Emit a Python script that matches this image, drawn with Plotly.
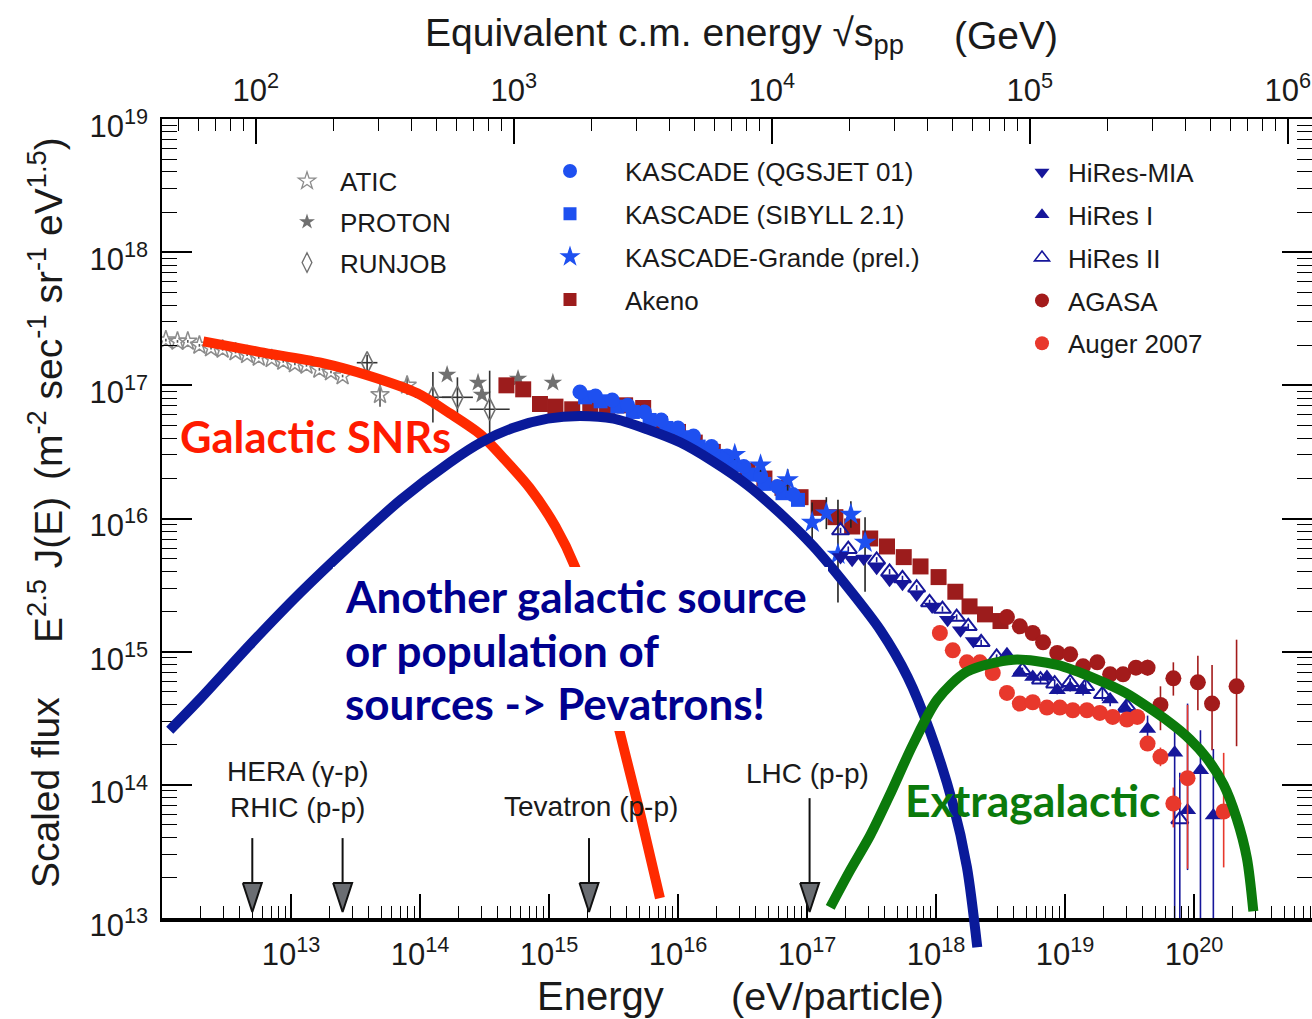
import numpy as np
import plotly.graph_objects as go

# ---------------------------------------------------------------------------
# Cosmic-ray spectrum data: log10(E / eV) and log10(E^2.5 J(E) / m^-2 s^-1 sr^-1 eV^1.5)
# ---------------------------------------------------------------------------
atic_logE = [12.03, 12.12, 12.20, 12.29, 12.38, 12.47, 12.57, 12.66, 12.75, 12.85,
             12.94, 13.03, 13.12, 13.22, 13.31, 13.40, 13.69, 13.90]
atic_logF = [17.34, 17.33, 17.33, 17.30, 17.28, 17.27, 17.25, 17.23, 17.21, 17.20,
             17.18, 17.16, 17.15, 17.12, 17.10, 17.07, 16.93, 17.00]
atic_err = [0.01, 0.01, 0.01, 0.01, 0.01, 0.01, 0.01, 0.01, 0.01, 0.01,
            0.01, 0.01, 0.01, 0.01, 0.01, 0.01, 0.09, 0.07]

proton_logE = [14.21, 14.45, 14.48, 14.76, 15.03]
proton_logF = [17.08, 17.02, 16.93, 17.05, 17.02]

runjob_logE = [13.59, 14.10, 14.29, 14.54]
runjob_logF = [17.17, 16.91, 16.91, 16.82]
runjob_up = [0.06, 0.19, 0.15, 0.29]
runjob_dn = [0.06, 0.19, 0.15, 0.27]
runjob_dE = [0.08, 0.14, 0.12, 0.155]

akeno_logE = [14.67, 14.80, 14.93, 15.05, 15.18, 15.32, 15.45, 15.59, 15.73, 15.86,
              16.00, 16.13, 16.27, 16.40, 16.54, 16.67, 16.81, 16.95, 17.09, 17.22,
              17.35, 17.49, 17.62, 17.75, 17.88, 18.02, 18.15, 18.26, 18.38, 18.50]
akeno_logF = [17.00, 16.97, 16.86, 16.84, 16.82, 16.82, 16.80, 16.85, 16.83, 16.71,
              16.65, 16.57, 16.50, 16.42, 16.36, 16.30, 16.23, 16.16, 16.08, 16.01,
              15.94, 15.85, 15.79, 15.71, 15.64, 15.56, 15.45, 15.34, 15.28, 15.23]

kq_logE = [15.24, 15.36, 15.49, 15.61, 15.74, 15.87, 16.00, 16.12, 16.26, 16.38, 16.51, 16.64, 16.77, 16.89]
kq_logF = [16.95, 16.92, 16.89, 16.85, 16.80, 16.74, 16.68, 16.62, 16.54, 16.47, 16.39, 16.32, 16.24, 16.18]

ks_logE = [15.28, 15.40, 15.53, 15.65, 15.78, 15.91, 16.04, 16.16, 16.30, 16.42, 16.55, 16.67, 16.81, 16.93]
ks_logF = [16.91, 16.88, 16.84, 16.80, 16.74, 16.68, 16.61, 16.54, 16.47, 16.40, 16.33, 16.26, 16.19, 16.14]

kg_logE = [16.44, 16.64, 16.85, 17.04, 17.15, 17.24, 17.34, 17.45]
kg_logF = [16.48, 16.40, 16.29, 15.97, 16.04, 15.73, 16.03, 15.82]
kg_up = [0.04, 0.05, 0.08, 0.15, 0.12, 0.41, 0.10, 0.19]
kg_dn = [0.04, 0.05, 0.08, 0.15, 0.12, 0.36, 0.10, 0.37]

mia_logE = [17.26, 17.35, 17.44, 17.54, 17.64, 17.74, 17.85, 17.97, 18.09, 18.19, 18.29]
mia_logF = [15.71, 15.69, 15.70, 15.63, 15.54, 15.51, 15.43, 15.34, 15.24, 15.16, 15.08]

hr2_logE = [17.26, 17.32, 17.54, 17.64, 17.74, 17.85, 17.95, 18.05, 18.16, 18.25,
            18.35, 18.47, 18.67, 18.81, 18.92, 19.04, 19.16, 19.29, 19.48, 19.89]
hr2_logF = [15.91, 15.77, 15.69, 15.60, 15.55, 15.48, 15.37, 15.32, 15.26, 15.19,
            15.07, 14.96, 14.86, 14.79, 14.76, 14.77, 14.74, 14.68, 14.59, 13.74]
hr2_up = [0.02, 0.02, 0.02, 0.02, 0.02, 0.02, 0.02, 0.02, 0.02, 0.02,
          0.02, 0.02, 0.02, 0.03, 0.03, 0.03, 0.04, 0.05, 0.06, 0.35]
hr2_dn = [0.02, 0.02, 0.02, 0.02, 0.02, 0.02, 0.02, 0.02, 0.02, 0.02,
          0.02, 0.02, 0.02, 0.03, 0.03, 0.03, 0.04, 0.05, 0.06, 2.00]

hr1_logE = [18.55, 18.65, 18.75, 18.86, 18.94, 19.04, 19.14, 19.35, 19.47, 19.64, 19.85, 19.95, 20.05, 20.15]
hr1_logF = [14.98, 14.84, 14.81, 14.81, 14.71, 14.73, 14.71, 14.64, 14.57, 14.42, 14.24, 13.81, 14.11, 13.77]
hr1_up = [0.02, 0.02, 0.02, 0.02, 0.03, 0.03, 0.04, 0.05, 0.06, 0.10, 0.20, 0.80, 0.30, 0.50]
hr1_dn = [0.02, 0.02, 0.02, 0.02, 0.03, 0.03, 0.04, 0.05, 0.06, 0.10, 2.00, 0.45, 2.00, 2.00]

agasa_logE = [18.55, 18.65, 18.75, 18.83, 18.94, 19.04, 19.14, 19.25, 19.35, 19.45,
              19.55, 19.64, 19.74, 19.84, 20.03, 20.14, 20.33]
agasa_logF = [15.26, 15.19, 15.14, 15.07, 14.99, 14.98, 14.89, 14.92, 14.83, 14.83,
              14.88, 14.88, 14.60, 14.80, 14.77, 14.61, 14.74]
agasa_up = [0.02, 0.02, 0.02, 0.02, 0.02, 0.03, 0.03, 0.03, 0.04, 0.04,
            0.05, 0.06, 0.14, 0.12, 0.20, 0.29, 0.35]
agasa_dn = [0.02, 0.02, 0.02, 0.02, 0.02, 0.03, 0.03, 0.03, 0.04, 0.04,
            0.05, 0.06, 0.19, 0.13, 0.21, 0.35, 0.45]

auger_logE = [18.03, 18.13, 18.24, 18.34, 18.44, 18.55, 18.65, 18.75, 18.86, 18.96,
              19.06, 19.17, 19.27, 19.37, 19.48, 19.56, 19.64, 19.74, 19.84, 19.95, 20.23]
auger_logF = [15.14, 15.01, 14.92, 14.92, 14.84, 14.69, 14.61, 14.62, 14.58, 14.58,
              14.56, 14.56, 14.54, 14.51, 14.49, 14.51, 14.31, 14.21, 13.86, 14.05, 13.80]
auger_up = [0.02, 0.02, 0.02, 0.02, 0.02, 0.02, 0.02, 0.02, 0.02, 0.02,
            0.02, 0.03, 0.03, 0.03, 0.04, 0.04, 0.05, 0.07, 0.12, 0.55, 0.44]
auger_dn = [0.02, 0.02, 0.02, 0.02, 0.02, 0.02, 0.02, 0.02, 0.02, 0.02,
            0.02, 0.03, 0.03, 0.03, 0.04, 0.04, 0.05, 0.07, 0.18, 0.68, 0.42]

# Source-population components (hand-drawn model curves)
snr_logE = [12.32, 12.76, 13.23, 13.61, 13.98, 14.23, 14.47, 14.66, 14.85, 15.05, 15.20, 15.38, 15.55, 15.71, 15.86]
snr_logF = [17.33, 17.25, 17.17, 17.07, 16.94, 16.79, 16.63, 16.44, 16.23, 15.94, 15.64, 15.09, 14.39, 13.77, 13.15]

pev_logE = [12.06, 12.30, 12.68, 13.07, 13.46, 13.85, 14.23, 14.47, 14.72, 14.99, 15.24, 15.50, 15.76,
            16.02, 16.27, 16.54, 16.79, 17.05, 17.31, 17.57, 17.78, 17.95, 18.13, 18.24, 18.32]
pev_logF = [14.41, 14.65, 15.05, 15.44, 15.80, 16.14, 16.42, 16.57, 16.68, 16.75, 16.77, 16.75, 16.67,
            16.57, 16.43, 16.25, 16.04, 15.79, 15.49, 15.16, 14.81, 14.41, 13.86, 13.38, 12.78]

exg_logE = [17.18, 17.33, 17.49, 17.64, 17.82, 18.01, 18.24, 18.60, 18.94, 19.25, 19.47, 19.81,
            19.97, 20.10, 20.23, 20.33, 20.41, 20.46]
exg_logF = [13.08, 13.35, 13.62, 13.92, 14.30, 14.64, 14.85, 14.94, 14.90, 14.79, 14.69, 14.47,
            14.34, 14.20, 14.00, 13.75, 13.45, 13.05]

# Accelerator equivalent lab energies
collider_logE = [12.70, 13.40, 15.31, 17.02]

# Axis tick values
e_tick_exp = [13, 14, 15, 16, 17, 18, 19, 20]
f_tick_exp = [13, 14, 15, 16, 17, 18, 19]
s_tick_exp = [2, 3, 4, 5, 6]

# ---------------------------------------------------------------------------
# Geometry
# ---------------------------------------------------------------------------
W, H = 1312, 1019
BOX_L, BOX_R, BOX_T, BOX_B = 162, 1312, 119, 918
E_MIN = 12.0
PX_PER_DEC_X = 129.0
E_MAX = E_MIN + (BOX_R - BOX_L) / PX_PER_DEC_X
F_MIN, F_MAX = 13.0, 19.0
PX_PER_DEC_Y = (BOX_B - BOX_T) / (F_MAX - F_MIN)
M_P = 0.938272  # GeV


def log_sqrt_s(logE):
    """Fixed-target p-p centre-of-mass energy (GeV) for lab energy E (eV)."""
    return 0.5 * (np.log10(2 * M_P) + logE - 9.0)


def px(x):
    return x / W


def py(y):
    return 1 - y / H


def lin(vals):
    return [10 ** v for v in vals]


def err_plus(logF, up):
    return [10 ** f * (10 ** u - 1) for f, u in zip(logF, up)]


def err_minus(logF, dn):
    return [10 ** f * (1 - 10 ** (-d)) for f, d in zip(logF, dn)]


FONT = "Liberation Sans"
INK = "#1a1a1a"

GREY_OPEN = "#8c8c8c"
GREY = "#707070"
KBLUE = "#1e50f0"
AKENO = "#9c1c1c"
HIRES = "#16169a"
AGASA = "#a31b1b"
AUGER = "#e8382c"

fig = go.Figure()


def data_trace(logE, logF, symbol, color, size, lw=0, up=None, dn=None, ecolor=None, dE=None):
    kw = dict(x=lin(logE), y=lin(logF), mode="markers", showlegend=False, hoverinfo="skip",
              marker=dict(symbol=symbol, color=color, size=size, line=dict(width=lw, color=color)))
    if up is not None:
        kw["error_y"] = dict(type="data", symmetric=False, array=err_plus(logF, up),
                             arrayminus=err_minus(logF, dn), color=ecolor or color,
                             thickness=1.6, width=0)
    if dE is not None:
        kw["error_x"] = dict(type="data", symmetric=False, array=err_plus(logE, dE),
                             arrayminus=err_minus(logE, dE), color=ecolor or color,
                             thickness=1.6, width=0)
    fig.add_trace(go.Scatter(**kw))


data_trace(atic_logE, atic_logF, "star-open", GREY_OPEN, 14, 1.5, atic_err, atic_err, "#555", None)
data_trace(proton_logE, proton_logF, "star", GREY, 14)
data_trace(runjob_logE, runjob_logF, "diamond-tall-open", GREY, 16, 1.6, runjob_up, runjob_dn, "#333", runjob_dE)
data_trace(akeno_logE, akeno_logF, "square", AKENO, 16)
data_trace(ks_logE, ks_logF, "square", KBLUE, 14)
data_trace(kq_logE, kq_logF, "circle", KBLUE, 15)
data_trace(kg_logE, kg_logF, "star", KBLUE, 17, 0, kg_up, kg_dn, "#222")
data_trace(mia_logE, mia_logF, "triangle-down", HIRES, 15)
data_trace(hr2_logE, hr2_logF, "triangle-up-open", HIRES, 15, 2, hr2_up, hr2_dn, HIRES)
data_trace(hr1_logE, hr1_logF, "triangle-up", HIRES, 15, 0, hr1_up, hr1_dn, HIRES)
data_trace(agasa_logE, agasa_logF, "circle", AGASA, 16, 0, agasa_up, agasa_dn, AGASA)
data_trace(auger_logE, auger_logF, "circle", AUGER, 16, 0, auger_up, auger_dn, AUGER)

# keeps the top (sqrt s) axis alive
fig.add_trace(go.Scatter(x=[None], y=[None], xaxis="x2", yaxis="y", showlegend=False, hoverinfo="skip"))

# Legend entries (three column legends)
legend_entries = [
    ("ATIC", "legend", "star-open", GREY_OPEN, 13, 1.3),
    ("PROTON", "legend", "star", GREY, 12, 0),
    ("RUNJOB", "legend", "diamond-tall-open", GREY, 14, 1.3),
    ("KASCADE (QGSJET 01)", "legend2", "circle", KBLUE, 14, 0),
    ("KASCADE (SIBYLL 2.1)", "legend2", "square", KBLUE, 13, 0),
    ("KASCADE-Grande (prel.)", "legend2", "star", KBLUE, 16, 0),
    ("Akeno", "legend2", "square", AKENO, 13, 0),
    ("HiRes-MIA", "legend3", "triangle-down", HIRES, 13, 0),
    ("HiRes I", "legend3", "triangle-up", HIRES, 13, 0),
    ("HiRes II", "legend3", "triangle-up-open", HIRES, 13, 1.6),
    ("AGASA", "legend3", "circle", AGASA, 14, 0),
    ("Auger 2007", "legend3", "circle", AUGER, 14, 0),
]
for name, leg, sym, col, size, lw in legend_entries:
    fig.add_trace(go.Scatter(x=[None], y=[None], mode="markers", name=name, legend=leg,
                             legendgroup=name, showlegend=True, hoverinfo="skip",
                             marker=dict(symbol=sym, color=col, size=size, line=dict(width=lw, color=col))))

# Model curves on a page-wide overlay in log units (not clipped by the frame)
for le, lf, col in [(snr_logE, snr_logF, "#ff2a00"),
                    (pev_logE, pev_logF, "#0a1a9a"),
                    (exg_logE, exg_logF, "#0b7a0b")]:
    fig.add_trace(go.Scatter(x=le, y=lf, mode="lines", xaxis="x3", yaxis="y3", showlegend=False,
                             hoverinfo="skip", line=dict(color=col, width=10, shape="spline", smoothing=0.8)))

# Collider arrows
shaft_top = [13.60, 13.60, 13.60, 13.90]
head_top = F_MIN + (BOX_B - 883) / PX_PER_DEC_Y
head_tip = F_MIN + (BOX_B - 912) / PX_PER_DEC_Y
head_half = 9.5 / PX_PER_DEC_X
for le, top in zip(collider_logE, shaft_top):
    fig.add_trace(go.Scatter(x=[le, le], y=[top, head_top], mode="lines", xaxis="x3", yaxis="y3",
                             showlegend=False, hoverinfo="skip", line=dict(color="#111", width=2)))
    fig.add_trace(go.Scatter(x=[le - head_half, le + head_half, le, le - head_half],
                             y=[head_top, head_top, head_tip, head_top], mode="lines", fill="toself",
                             fillcolor="#6a6d72", xaxis="x3", yaxis="y3", showlegend=False,
                             hoverinfo="skip", line=dict(color="#111", width=2)))


def sup_labels(exps):
    return ["10<sup>%d</sup>" % e for e in exps]


def minor_vals(lo, hi):
    return [k * 10.0 ** n for n in range(lo, hi) for k in range(2, 10)]


tickfont = dict(family=FONT, size=31, color=INK)

fig.update_layout(
    width=W, height=H,
    margin=dict(l=0, r=0, t=0, b=0, autoexpand=False),
    paper_bgcolor="white", plot_bgcolor="rgba(0,0,0,0)",
    xaxis=dict(type="log", range=[E_MIN, E_MAX], domain=[px(BOX_L), 1], anchor="y",
               showgrid=False, zeroline=False, showline=True, linecolor="black", linewidth=4,
               ticks="inside", ticklen=24, tickwidth=1.5, tickcolor="black",
               tickvals=[10.0 ** e for e in e_tick_exp], ticktext=sup_labels(e_tick_exp),
               tickfont=tickfont, ticklabelstandoff=6,
               minor=dict(ticks="inside", ticklen=12, tickwidth=1.2, tickcolor="black",
                          tickvals=minor_vals(12, 21), showgrid=False)),
    xaxis2=dict(type="log", range=[log_sqrt_s(E_MIN), log_sqrt_s(E_MAX)], overlaying="x", side="top",
                anchor="y", showgrid=False, zeroline=False, showline=True, linecolor="black", linewidth=2,
                ticks="inside", ticklen=25, tickwidth=1.5, tickcolor="black",
                tickvals=[10.0 ** e for e in s_tick_exp], ticktext=sup_labels(s_tick_exp),
                tickfont=tickfont, ticklabelstandoff=4,
                minor=dict(ticks="inside", ticklen=12, tickwidth=1.2, tickcolor="black",
                           tickvals=minor_vals(1, 7), showgrid=False)),
    yaxis=dict(type="log", range=[F_MIN, F_MAX], domain=[py(BOX_B), py(BOX_T)], anchor="x",
               showgrid=False, zeroline=False, showline=True, linecolor="black", linewidth=1.5,
               mirror="ticks", ticks="inside", ticklen=30, tickwidth=1.5, tickcolor="black",
               tickvals=[10.0 ** e for e in f_tick_exp], ticktext=sup_labels(f_tick_exp),
               tickfont=tickfont, ticklabelstandoff=6, ticklabelshift=7,
               minor=dict(ticks="inside", ticklen=15, tickwidth=1.2, tickcolor="black",
                          tickvals=minor_vals(13, 19), showgrid=False)),
    xaxis3=dict(range=[E_MIN - BOX_L / PX_PER_DEC_X, E_MAX], domain=[0, 1], anchor="y3", visible=False),
    yaxis3=dict(range=[F_MIN - (H - BOX_B) / PX_PER_DEC_Y, F_MAX + BOX_T / PX_PER_DEC_Y],
                domain=[0, 1], anchor="x3", visible=False),
    showlegend=True,
)

legfont = dict(family=FONT, size=26, color=INK)
fig.update_layout(
    legend=dict(x=px(274), y=py(157.6), xanchor="left", yanchor="top", itemwidth=56,
                tracegroupgap=4, font=legfont, bgcolor="rgba(0,0,0,0)", borderwidth=0),
    legend2=dict(x=px(515), y=py(147.6), xanchor="left", yanchor="top", itemwidth=100,
                 tracegroupgap=6, font=legfont, bgcolor="rgba(0,0,0,0)", borderwidth=0),
    legend3=dict(x=px(1016), y=py(148.6), xanchor="left", yanchor="top", itemwidth=42,
                 tracegroupgap=6, font=legfont, bgcolor="rgba(0,0,0,0)", borderwidth=0),
)

# White panel behind the central caption
fig.add_shape(type="rect", xref="paper", yref="paper", x0=px(333), x1=px(828), y0=py(731), y1=py(567),
              fillcolor="white", line=dict(width=0), layer="above")

ann = []


def text(x, y, s, size, color=INK, family=FONT, xanchor="center", yanchor="middle", angle=0,
         weight="normal", align="center"):
    ann.append(dict(x=px(x), y=py(y), xref="paper", yref="paper", text=s, showarrow=False,
                    xanchor=xanchor, yanchor=yanchor, textangle=angle, align=align,
                    font=dict(family=family, size=size, color=color, weight=weight)))


# axis titles
text(664, 36, "Equivalent c.m. energy √s<sub>pp</sub>", 39)
text(1006, 36, "(GeV)", 39)
text(600, 996, "Energy", 40)
text(837, 996, "(eV/particle)", 39.5)
text(45, 793, "Scaled flux", 39, angle=-90)
text(45, 570, "E<sup>2.5</sup> J(E)", 39, angle=-90)
text(45, 309, "(m<sup>-2</sup> sec<sup>-1</sup> sr<sup>-1</sup> eV<sup>1.5</sup>)", 39, angle=-90)

# collider labels
text(298, 789, "HERA (γ-p)<br>RHIC (p-p)", 28)
text(591, 806, "Tevatron (p-p)", 28)
text(807, 773, "LHC (p-p)", 28)

# component captions
CAP = "Lato"
text(178, 436, "Galactic SNRs", 43.5, color="#ff1a00", family=CAP, xanchor="left", weight="bold")
for line, yc in [("Another galactic source", 596), ("or population of", 650),
                 ("sources -> Pevatrons!", 703)]:
    text(343, yc, line, 44, color="#00008f", family=CAP, xanchor="left", weight="bold")
text(903, 799, "Extragalactic", 44.5, color="#0b7a0b", family=CAP, xanchor="left", weight="bold")

fig.update_layout(annotations=ann)

fig.write_html("out.html")
